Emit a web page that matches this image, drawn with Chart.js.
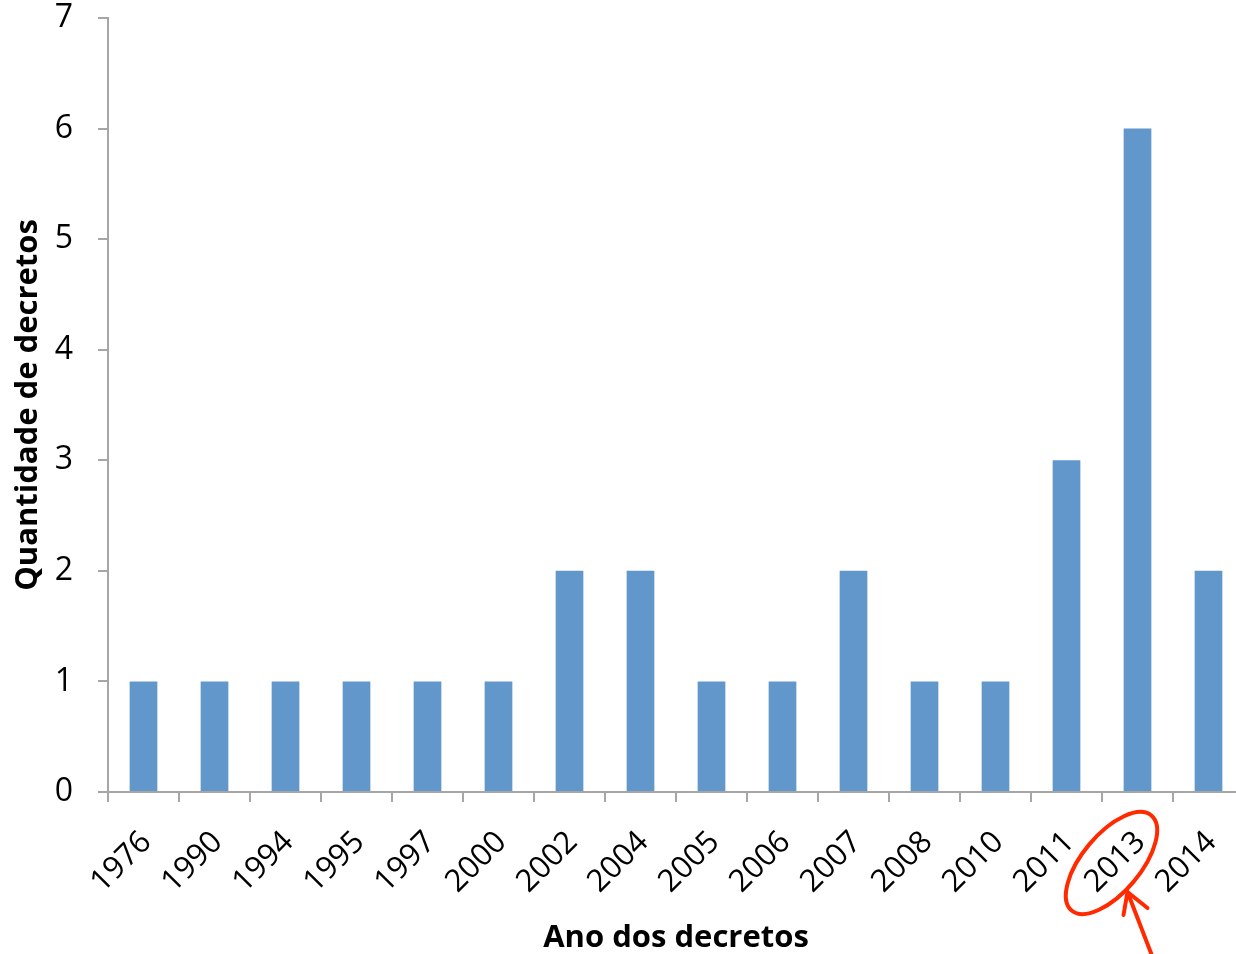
<!DOCTYPE html>
<html>
<head>
<meta charset="utf-8">
<script src="https://cdn.jsdelivr.net/npm/chart.js@4.4.1/dist/chart.umd.min.js"></script>
<style>
  html, body { margin: 0; padding: 0; background: #fff; overflow: hidden; }
  #wrap { position: relative; width: 1250px; height: 954px; }
</style>
</head>
<body>
<div id="wrap"><canvas id="chart"></canvas></div>
<script>
// Decrees per year
const years = ['1976','1990','1994','1995','1997','2000','2002','2004','2005','2006','2007','2008','2010','2011','2013','2014'];
const decreeCounts = [1, 1, 1, 1, 1, 1, 2, 2, 1, 1, 2, 1, 1, 3, 6, 2];
const yTicks = [0, 1, 2, 3, 4, 5, 6, 7];
const highlightedYear = '2013';

const FONT = '"Open Sans", "DejaVu Sans", sans-serif';
const AXIS_GREY = '#a6a6a6';

// Red ellipse around the highlighted year label plus an arrow pointing at it
const highlightPlugin = {
  id: 'highlight',
  afterDraw(chart) {
    const x = chart.scales.x;
    const idx = years.indexOf(highlightedYear);
    const cx = x.getPixelForValue(idx);
    const base = x.top;
    const ctx = chart.ctx;
    ctx.save();
    ctx.strokeStyle = '#ff2a00';
    ctx.lineWidth = 4;
    ctx.lineCap = 'round';
    ctx.lineJoin = 'round';
    // ellipse
    ctx.beginPath();
    ctx.ellipse(cx - 26, base + 71, 62, 29, -50 * Math.PI / 180, 0, Math.PI * 2);
    ctx.stroke();
    // arrow shaft
    const tipX = cx - 10, tipY = base + 100;
    ctx.beginPath();
    ctx.moveTo(cx + 15, base + 165);
    ctx.lineTo(tipX, tipY);
    ctx.stroke();
    // arrow head
    ctx.beginPath();
    ctx.moveTo(tipX - 4, tipY + 23);
    ctx.lineTo(tipX, tipY);
    ctx.lineTo(tipX + 20, tipY + 16);
    ctx.stroke();
    ctx.restore();
  }
};

new Chart(document.getElementById('chart'), {
  type: 'bar',
  data: {
    labels: years,
    datasets: [{
      data: decreeCounts,
      backgroundColor: '#6197cb',
      borderWidth: 0,
      barPercentage: 0.39,
      categoryPercentage: 1.0
    }]
  },
  options: {
    responsive: true,
    maintainAspectRatio: false,
    animation: false,
    devicePixelRatio: 1,
    layout: { padding: { top: 0, right: 6, bottom: 0, left: 0 } },
    plugins: {
      legend: { display: false },
      tooltip: { enabled: false }
    },
    scales: {
      x: {
        afterFit(scale) {
          scale.height = 162;
          scale.paddingLeft = 0;
          scale.paddingRight = 0;
        },
        grid: {
          display: true,
          drawOnChartArea: false,
          drawTicks: true,
          tickLength: 10,
          color: AXIS_GREY,
          lineWidth: 2,
          offset: true
        },
        border: { display: true, color: AXIS_GREY, width: 2 },
        ticks: {
          color: '#000',
          font: { family: FONT, size: 31 },
          maxRotation: 45,
          minRotation: 45,
          autoSkip: false,
          padding: 22,
          labelOffset: 3
        },
        title: {
          display: true,
          text: 'Ano dos decretos',
          color: '#000',
          font: { family: FONT, size: 31, weight: 'bold', lineHeight: 1.0 },
          padding: { top: 0, bottom: 0 }
        }
      },
      y: {
        min: 0,
        max: 7,
        afterBuildTicks(scale) { scale.ticks = yTicks.map(v => ({ value: v })); },
        afterFit(scale) {
          scale.width = 108;
          scale.paddingTop = 18;
          scale.paddingBottom = 18;
        },
        grid: {
          display: true,
          drawOnChartArea: false,
          drawTicks: true,
          tickLength: 10,
          color: AXIS_GREY,
          lineWidth: 2
        },
        border: { display: true, color: AXIS_GREY, width: 2 },
        ticks: {
          color: '#000',
          font: { family: FONT, size: 32, lineHeight: 1.1 },
          padding: 25
        },
        title: {
          display: true,
          text: 'Quantidade de decretos',
          color: '#000',
          font: { family: FONT, size: 31, weight: 'bold' },
          padding: { top: 10, bottom: 0 }
        }
      }
    }
  },
  plugins: [highlightPlugin]
});
</script>
</body>
</html>
